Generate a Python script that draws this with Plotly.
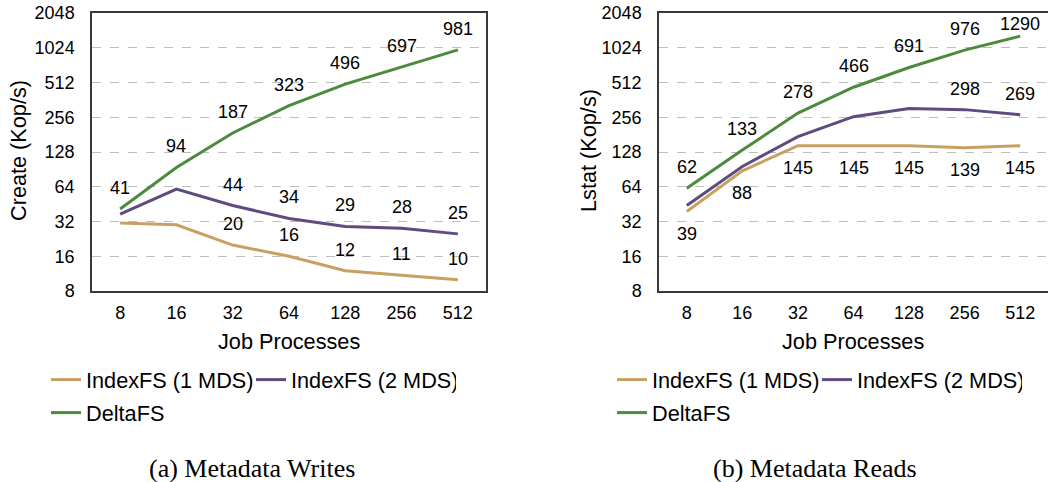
import math
import plotly.graph_objects as go

# ---------------- data ----------------
procs = ["8", "16", "32", "64", "128", "256", "512"]
series_names = ["IndexFS (1 MDS)", "IndexFS (2 MDS)", "DeltaFS"]

create_1mds = [31, 30, 20, 16, 12, 11, 10]
create_2mds = [37, 61, 44, 34, 29, 28, 25]
create_delta = [41, 94, 187, 323, 496, 697, 981]
create_1mds_lbl = ["", "", "20", "16", "12", "11", "10"]
create_2mds_lbl = ["", "", "44", "34", "29", "28", "25"]
create_delta_lbl = ["41", "94", "187", "323", "496", "697", "981"]

lstat_1mds = [39, 88, 145, 145, 145, 139, 145]
lstat_2mds = [44, 96, 174, 259, 305, 298, 269]
lstat_delta = [62, 133, 278, 466, 691, 976, 1290]
lstat_1mds_lbl = ["39", "88", "145", "145", "145", "139", "145"]
lstat_2mds_lbl = ["", "", "", "", "", "298", "269"]
lstat_delta_lbl = ["62", "133", "278", "466", "691", "976", "1290"]

y_ticks = [8, 16, 32, 64, 128, 256, 512, 1024, 2048]
y_ticktext = ["8", "16", "32", "64", "128", "256", "512", "1024", "2048"]

colors = ["#C8A062", "#5F4B7E", "#4C8A3C"]

W, H = 1050, 482
FONT = "Liberation Sans, Arial, sans-serif"
SERIF = "Liberation Serif, Times New Roman, serif"

PLOT_TOP, PLOT_BOT = 13, 291
YMIN, YMAX = 8, 2048


def px(x):
    return x / W


def py(y):
    return 1 - y / H


def label_shift(v, side):
    # distance (px) of a data label from its point; keep labels inside the frame
    if side < 0:
        return -22
    frac = (math.log2(YMAX) - math.log2(v)) / (math.log2(YMAX) - math.log2(YMIN))
    ypix = PLOT_TOP + frac * (PLOT_BOT - PLOT_TOP)
    return min(21, ypix - (PLOT_TOP + 11))


fig = go.Figure()

left = [(create_1mds, create_1mds_lbl, 1), (create_2mds, create_2mds_lbl, 1),
        (create_delta, create_delta_lbl, 1)]
right = [(lstat_1mds, lstat_1mds_lbl, -1), (lstat_2mds, lstat_2mds_lbl, 1),
         (lstat_delta, lstat_delta_lbl, 1)]

legend_ids_left = ["legend", "legend", "legend3"]
legend_ids_right = ["legend2", "legend2", "legend4"]

annotations = []
for specs, xa, ya, legs in [(left, "x", "y", legend_ids_left),
                            (right, "x2", "y2", legend_ids_right)]:
    for i, (vals, lbls, side) in enumerate(specs):
        fig.add_trace(go.Scatter(
            x=procs, y=vals, mode="lines", name=series_names[i],
            line=dict(color=colors[i], width=3),
            xaxis=xa, yaxis=ya, legend=legs[i], showlegend=True,
            hoverinfo="skip",
        ))
        for k, (yv, t) in enumerate(zip(vals, lbls)):
            if t:
                annotations.append(dict(
                    x=k, y=math.log10(yv), xref=xa, yref=ya, text=t,
                    showarrow=False, yshift=label_shift(yv, side),
                    font=dict(family=FONT, size=18, color="#000"),
                ))

axis_common_y = dict(
    type="log", range=[math.log10(YMIN), math.log10(YMAX)],
    tickvals=y_ticks, ticktext=y_ticktext,
    showgrid=True, gridcolor="#BDBDBD", griddash="dash", gridwidth=1,
    showline=True, linecolor="#3A3A3A", linewidth=1.5,
    ticks="", tickfont=dict(family=FONT, size=18, color="#000"),
    ticklabelstandoff=12, ticklabeloverflow="allow",
    zeroline=False, fixedrange=True,
)
axis_common_x = dict(
    type="category", range=[-0.5, 6.5], showgrid=False,
    showline=True, linecolor="#3A3A3A", linewidth=1.5, mirror=True,
    ticks="", tickfont=dict(family=FONT, size=18, color="#000"),
    ticklabelstandoff=5, fixedrange=True,
)

ytop = py(PLOT_TOP)
ybot = py(PLOT_BOT)

fig.update_layout(
    width=W, height=H,
    margin=dict(l=0, r=0, t=0, b=0, autoexpand=False),
    paper_bgcolor="white", plot_bgcolor="white",
    font=dict(family=FONT, size=18, color="#000"),
    xaxis=dict(domain=[px(92), px(486)], anchor="y", **axis_common_x),
    yaxis=dict(domain=[ybot, ytop], anchor="x", mirror=True, **axis_common_y),
    xaxis2=dict(domain=[px(659), px(1048)], anchor="y2", **axis_common_x),
    yaxis2=dict(domain=[ybot, ytop], anchor="x2", mirror=False, **axis_common_y),
    showlegend=True,
)

legend_common = dict(orientation="h", font=dict(family=FONT, size=21.7, color="#000"),
                     bgcolor="rgba(0,0,0,0)", borderwidth=0, itemwidth=30,
                     entrywidth=160, entrywidthmode="pixels",
                     xanchor="left", yanchor="middle", xref="paper", yref="paper",
                     tracegroupgap=0, itemclick=False, itemdoubleclick=False)
fig.update_layout(
    legend=dict(x=px(46), y=py(380), **legend_common),
    legend3=dict(x=px(46), y=py(413), **legend_common),
    legend2=dict(x=px(612), y=py(380), **legend_common),
    legend4=dict(x=px(612), y=py(413), **legend_common),
)

# axis titles and captions
annotations += [
    dict(x=px(289), y=py(341), xref="paper", yref="paper", text="Job Processes",
         showarrow=False, font=dict(family=FONT, size=21.7), xanchor="center", yanchor="middle"),
    dict(x=px(853), y=py(341), xref="paper", yref="paper", text="Job Processes",
         showarrow=False, font=dict(family=FONT, size=21.7), xanchor="center", yanchor="middle"),
    dict(x=px(18), y=py(151), xref="paper", yref="paper", text="Create (Kop/s)",
         showarrow=False, textangle=-90, font=dict(family=FONT, size=21.7),
         xanchor="center", yanchor="middle"),
    dict(x=px(588), y=py(151), xref="paper", yref="paper", text="Lstat (Kop/s)",
         showarrow=False, textangle=-90, font=dict(family=FONT, size=21.7),
         xanchor="center", yanchor="middle"),
    dict(x=px(252), y=py(468), xref="paper", yref="paper", text="(a) Metadata Writes",
         showarrow=False, font=dict(family=SERIF, size=26),
         xanchor="center", yanchor="middle"),
    dict(x=px(815), y=py(468), xref="paper", yref="paper", text="(b) Metadata Reads",
         showarrow=False, font=dict(family=SERIF, size=26),
         xanchor="center", yanchor="middle"),
]
fig.update_layout(annotations=annotations)

# remove the browser's default 8px page margin so the figure sits at the window origin
fig.write_html("out.html", config={"displayModeBar": False},
               post_script="document.body.style.margin='0';")
